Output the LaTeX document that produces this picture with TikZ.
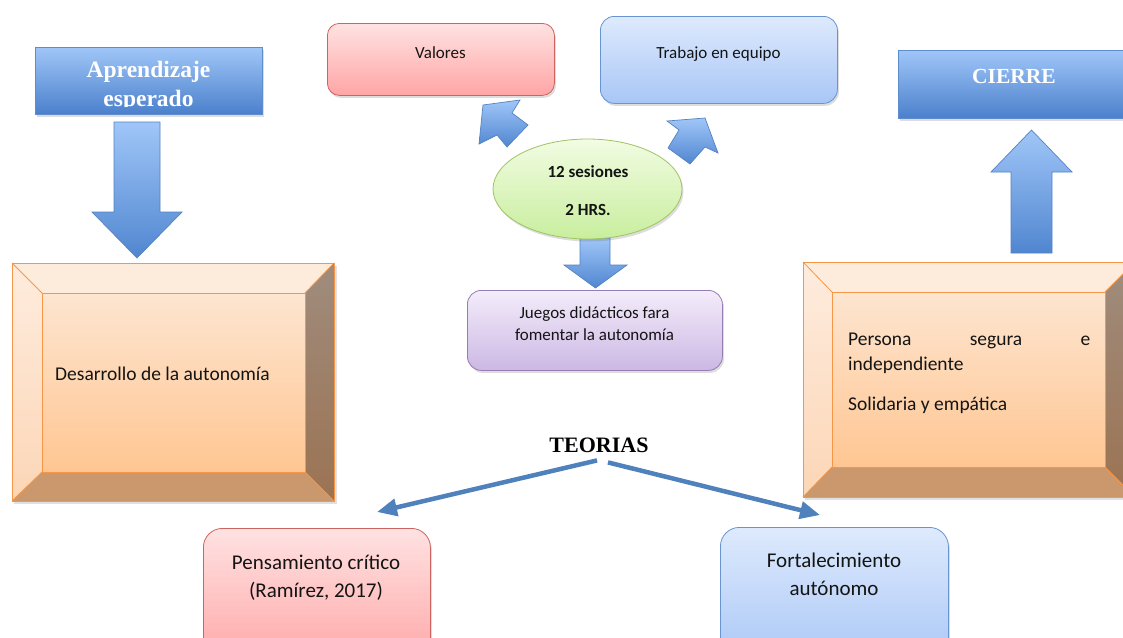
\documentclass[tikz,border=0pt]{standalone}
\usepackage{fontspec}
\newfontfamily\calfont{Carlito}
\newfontfamily\timesfont{Liberation Serif}
\usetikzlibrary{shapes.geometric,shadows,arrows.meta}
\definecolor{titletop}{RGB}{160,198,248}
\definecolor{titlebot}{RGB}{75,128,204}
\definecolor{titleedge}{RGB}{95,140,205}
\definecolor{arrowtop}{RGB}{160,198,248}
\definecolor{arrowbot}{RGB}{80,134,208}
\definecolor{arrowedge}{RGB}{85,130,195}
\definecolor{pinktop}{RGB}{255,226,226}
\definecolor{pinkbot}{RGB}{255,165,165}
\definecolor{pinkedge}{RGB}{205,100,96}
\definecolor{bluetop}{RGB}{222,234,253}
\definecolor{bluebot}{RGB}{168,198,246}
\definecolor{blueedge}{RGB}{105,148,210}
\definecolor{greentop}{RGB}{242,252,226}
\definecolor{greenbot}{RGB}{200,238,158}
\definecolor{greenedge}{RGB}{160,195,100}
\definecolor{purptop}{RGB}{244,236,250}
\definecolor{purpbot}{RGB}{204,184,228}
\definecolor{purpedge}{RGB}{150,125,180}
\definecolor{bevtop}{RGB}{253,235,219}
\definecolor{bevlA}{RGB}{254,236,222}
\definecolor{bevlB}{RGB}{252,214,182}
\definecolor{bevrA}{RGB}{160,140,125}
\definecolor{bevrB}{RGB}{155,115,82}
\definecolor{bevbot}{RGB}{202,152,108}
\definecolor{innertop}{RGB}{253,229,208}
\definecolor{innerbot}{RGB}{255,198,146}
\definecolor{bevedge}{RGB}{247,150,70}
\definecolor{teoblue}{RGB}{79,129,189}
\definecolor{txtcol}{RGB}{20,20,20}
\begin{document}
\begin{tikzpicture}[x=1pt,y=1pt,
  softshadow/.style={drop shadow={shadow xshift=1.5pt,shadow yshift=-2.5pt,opacity=0.22,fill=black!60}},
  titlebox/.style={rectangle,draw=titleedge,line width=0.6pt,top color=titletop,bottom color=titlebot,softshadow,inner sep=0pt},
  titlefont/.style={font=\timesfont\bfseries\fontsize{23.5}{28}\selectfont,text=white,inner sep=0pt},
  barrow/.style={draw=arrowedge,line width=0.7pt,top color=arrowtop,bottom color=arrowbot,line join=miter},
  pinkbox/.style={rectangle,rounded corners=12pt,draw=pinkedge,line width=0.8pt,top color=pinktop,bottom color=pinkbot,softshadow,inner sep=0pt},
  bluebox/.style={rectangle,rounded corners=14pt,draw=blueedge,line width=0.8pt,top color=bluetop,bottom color=bluebot,softshadow,inner sep=0pt},
  purpbox/.style={rectangle,rounded corners=14pt,draw=purpedge,line width=0.8pt,top color=purptop,bottom color=purpbot,softshadow,inner sep=0pt},
  greenell/.style={ellipse,draw=greenedge,line width=0.8pt,top color=greentop,bottom color=greenbot,softshadow,inner sep=0pt},
  innerbev/.style={rectangle,draw=bevedge,line width=0.8pt,top color=innertop,bottom color=innerbot,inner sep=0pt},
  bevline/.style={draw=bevedge,line width=0.8pt},
  smalltxt/.style={font=\calfont\fontsize{17}{22}\selectfont,text=txtcol,inner sep=0pt},
  boldtxt/.style={font=\calfont\bfseries\fontsize{17}{22}\selectfont,text=txtcol,inner sep=0pt},
  midtxt/.style={font=\calfont\fontsize{19.5}{25}\selectfont,text=txtcol,inner sep=0pt},
  bigtxt/.style={font=\calfont\fontsize{21}{28}\selectfont,text=txtcol,inner sep=0pt},
  teoarrow/.style={draw=teoblue,line width=4.5pt,-{Triangle[length=20pt,width=17pt]}}
]
\clip (0,0) rectangle (1123,-637);
\fill[white] (0,0) rectangle (1123,-637);

% ---------- title boxes ----------
\node[titlebox,minimum width=227,minimum height=67,anchor=north west] (apr) at (35,-47) {};
\begin{scope}
  \clip (35,-47) rectangle (262,-106);
  \node[titlefont,anchor=base] (aprA) at (148.5,-77) {Aprendizaje};
  \node[titlefont,anchor=base] (aprB) at (148.5,-106) {esperado};
\end{scope}

\node[titlebox,minimum width=250,minimum height=68,anchor=north west] (cie) at (898,-50) {};
\node[titlefont,font=\timesfont\bfseries\fontsize{21.5}{26}\selectfont,anchor=base] (cieT) at (1014,-83) {CIERRE};

% ---------- block arrows ----------
\path[barrow] (114,-122) -- (160,-122) -- (160,-212) -- (182,-212) -- (137,-258) -- (92,-212) -- (114,-212) -- cycle;
\path[barrow] (1011,-253) -- (1052,-253) -- (1052,-172) -- (1072,-172) -- (1031.5,-130) -- (991,-172) -- (1011,-172) -- cycle;
\path[barrow] (580,-238) -- (610,-238) -- (610,-265) -- (627,-265) -- (595.5,-288) -- (564,-265) -- (580,-265) -- cycle;
\path[barrow] (483,-105) -- (520,-100) -- (512,-113) -- (528,-125) -- (507,-147) -- (497,-135) -- (479,-144) -- cycle;
\path[barrow] (705,-118) -- (718,-153) -- (705,-147) -- (690,-164) -- (668,-148) -- (679,-130) -- (667,-121) -- cycle;

% ---------- top boxes ----------
\node[pinkbox,minimum width=227,minimum height=72,anchor=north west] (val) at (327,-23) {};
\node[smalltxt,anchor=base] (valT) at (440.5,-58) {Valores};
\node[bluebox,minimum width=237,minimum height=87,anchor=north west] (tra) at (600,-16) {};
\node[smalltxt,anchor=base] (traT) at (718.5,-58) {Trabajo en equipo};

% ---------- ellipse ----------
\node[greenell,minimum width=189,minimum height=100] (ses) at (587.5,-189) {};
\node[boldtxt,anchor=base] (sesA) at (588,-177) {12 sesiones};
\node[boldtxt,anchor=base] (sesB) at (588,-215) {2 HRS.};

% ---------- juegos ----------
\node[purpbox,minimum width=255,minimum height=80,anchor=north west] (jue) at (467,-290) {};
\node[smalltxt,anchor=base] (jueA) at (594.5,-318) {Juegos didácticos fara};
\node[smalltxt,anchor=base] (jueB) at (594.5,-340) {fomentar la autonomía};

% ---------- left bevel box ----------
\fill[black,opacity=0.12] (14,-266) rectangle (337,-504);
\fill[bevtop] (12,-263) -- (334,-263) -- (305,-293) -- (42,-293) -- cycle;
\path[top color=bevlA,bottom color=bevlB] (12,-263) -- (42,-293) -- (42,-472) -- (12,-501) -- cycle;
\path[top color=bevrA,bottom color=bevrB] (334,-263) -- (334,-501) -- (305,-472) -- (305,-293) -- cycle;
\fill[bevbot] (12,-501) -- (42,-472) -- (305,-472) -- (334,-501) -- cycle;
\node[innerbev,minimum width=263,minimum height=179,anchor=north west] (desa) at (42,-293) {};
\draw[bevline] (12,-263) rectangle (334,-501);
\draw[bevline] (12,-263) -- (42,-293) (334,-263) -- (305,-293) (12,-501) -- (42,-472) (334,-501) -- (305,-472);
\node[midtxt,anchor=base west] (desaT) at (55,-380) {Desarrollo de la autonomía};

% ---------- right bevel box ----------
\fill[black,opacity=0.12] (805,-265) rectangle (1140,-500);
\fill[bevtop] (803,-262) -- (1135,-262) -- (1105,-292) -- (832,-292) -- cycle;
\path[top color=bevlA,bottom color=bevlB] (803,-262) -- (832,-292) -- (832,-467) -- (803,-497) -- cycle;
\path[top color=bevrA,bottom color=bevrB] (1135,-262) -- (1135,-497) -- (1105,-467) -- (1105,-292) -- cycle;
\fill[bevbot] (803,-497) -- (832,-467) -- (1105,-467) -- (1135,-497) -- cycle;
\node[innerbev,minimum width=273,minimum height=175,anchor=north west] (pers) at (832,-292) {};
\draw[bevline] (803,-262) rectangle (1135,-497);
\draw[bevline] (803,-262) -- (832,-292) (1135,-262) -- (1105,-292) (803,-497) -- (832,-467) (1135,-497) -- (1105,-467);
\node[midtxt,anchor=base west] (persA) at (848,-345) {\makebox[242pt][s]{Persona\hfill segura\hfill e}};
\node[midtxt,anchor=base west] (persB) at (848,-370) {independiente};
\node[midtxt,anchor=base west] (persC) at (848,-410) {Solidaria y empática};

% ---------- teorias ----------
\node[font=\timesfont\bfseries\fontsize{22}{26}\selectfont,inner sep=0pt,anchor=base] (teo) at (599,-452) {TEORIAS};
\node[pinkbox,rounded corners=19pt,minimum width=227,minimum height=140,anchor=north west] (pens) at (203,-528) {};
\node[bigtxt,anchor=base] (pensA) at (316,-569) {Pensamiento crítico};
\node[bigtxt,anchor=base] (pensB) at (316,-597) {(Ramírez, 2017)};
\node[bluebox,rounded corners=19pt,minimum width=228,minimum height=140,anchor=north west] (fort) at (720,-527) {};
\node[bigtxt,anchor=base] (fortA) at (834,-567) {Fortalecimiento};
\node[bigtxt,anchor=base] (fortB) at (834,-595) {autónomo};

\coordinate (ptip) at (377,-512);
\coordinate (ftip) at (820,-515);
\draw[teoarrow] ([shift={(-2,-8)}]teo.south) -- (ptip);
\draw[teoarrow] ([shift={(9,-10)}]teo.south) -- (ftip);
\end{tikzpicture}
\end{document}
